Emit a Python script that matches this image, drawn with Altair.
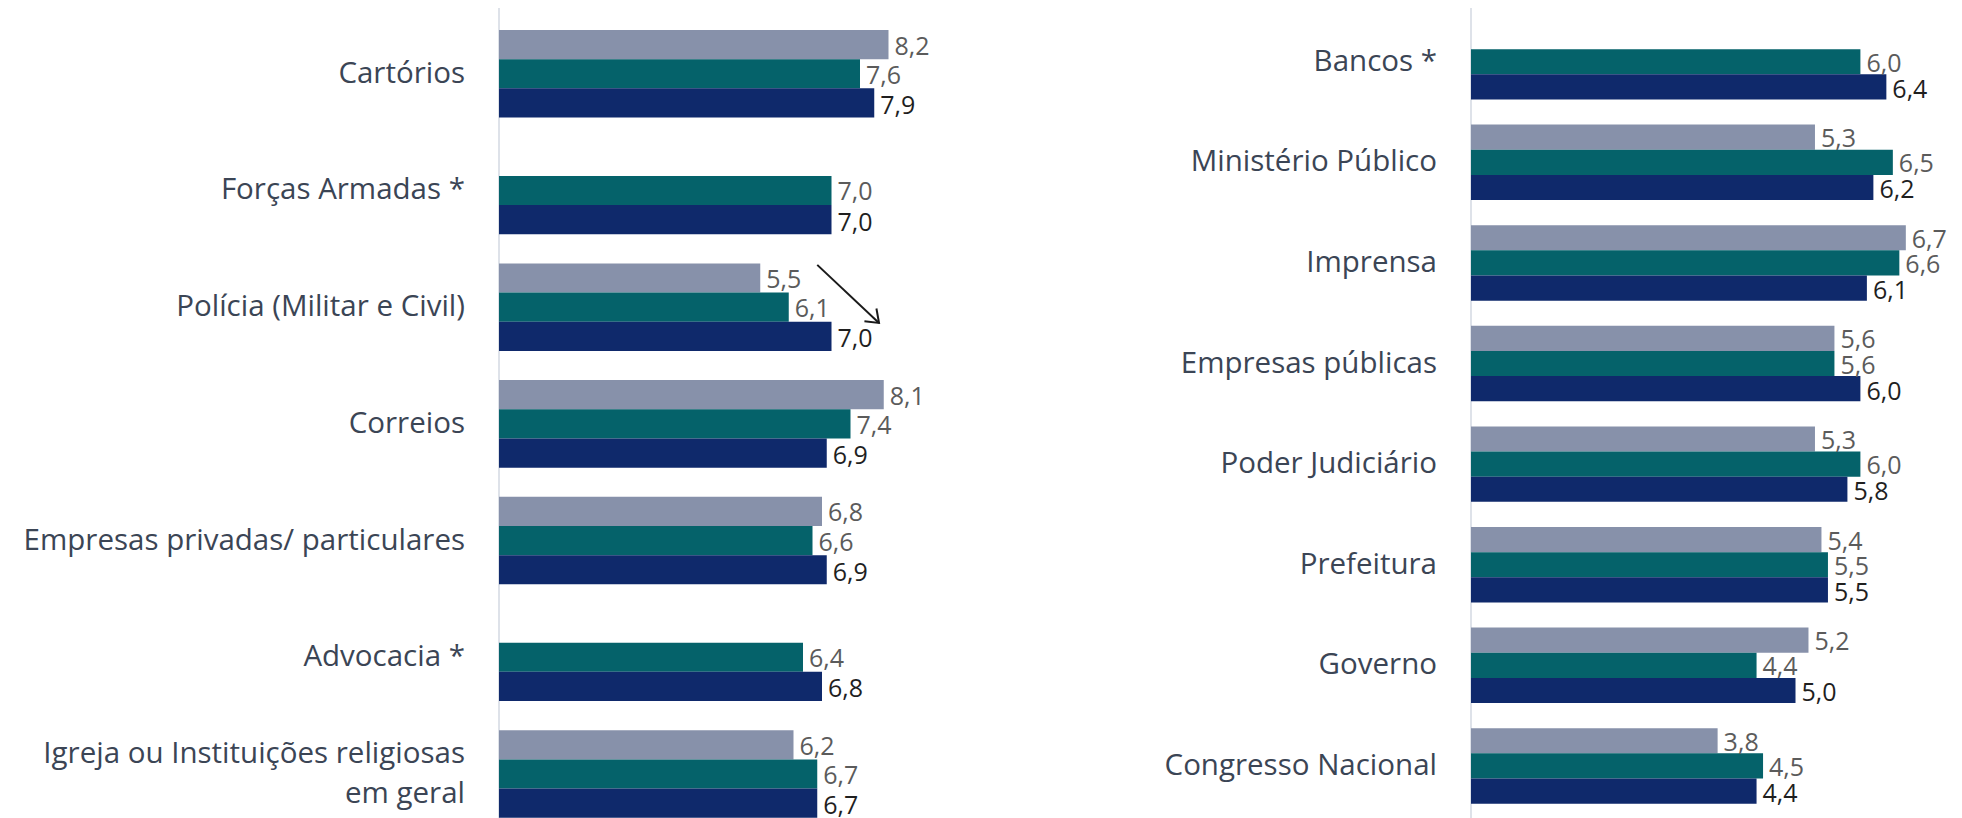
import altair as alt
import pandas as pd

# ---- data ----
series = ["Série 1", "Série 2", "Série 3"]
colors = ["#8791AA", "#05626A", "#0F296B"]

left_cats = [
    "Cartórios",
    "Forças Armadas *",
    "Polícia (Militar e Civil)",
    "Correios",
    "Empresas privadas/ particulares",
    "Advocacia *",
    "Igreja ou Instituições religiosas|em geral",
]
left_s1 = [8.2, None, 5.5, 8.1, 6.8, None, 6.2]
left_s2 = [7.6, 7.0, 6.1, 7.4, 6.6, 6.4, 6.7]
left_s3 = [7.9, 7.0, 7.0, 6.9, 6.9, 6.8, 6.7]

right_cats = [
    "Bancos *",
    "Ministério Público",
    "Imprensa",
    "Empresas públicas",
    "Poder Judiciário",
    "Prefeitura",
    "Governo",
    "Congresso Nacional",
]
right_s1 = [None, 5.3, 6.7, 5.6, 5.3, 5.4, 5.2, 3.8]
right_s2 = [6.0, 6.5, 6.6, 5.6, 6.0, 5.5, 4.4, 4.5]
right_s3 = [6.4, 6.2, 6.1, 6.0, 5.8, 5.5, 5.0, 4.4]

# trend arrow annotation next to "Polícia (Militar e Civil)"
arrow_cat = "Polícia (Militar e Civil)"
arrow_from = 6.7
arrow_to = 8.0


def make_df(cats, s1, s2, s3):
    rows = []
    for i, (c, a, b, d) in enumerate(zip(cats, s1, s2, s3)):
        for j, (s, v) in enumerate(zip(series, (a, b, d))):
            if v is not None:
                rows.append({"cat": c, "ordem": i, "serie": s, "sidx": j, "valor": v})
    return pd.DataFrame(rows)


LABEL_FONT = "Open Sans"
W, H = 1946, 810          # whole drawing area (page offset 8,8)
SLOTS = 4                 # 3 bars + 1 gap per category
LINE_H = 40               # line height of wrapped category labels


def panel(df, cats, zero_px, px_per_unit, first_bar_px, bar_px, arrow=None):
    xscale = alt.Scale(domain=[-zero_px / px_per_unit, (W - zero_px) / px_per_unit],
                       nice=False, zero=False)
    ymin = -first_bar_px / bar_px
    yscale = alt.Scale(domain=[ymin, ymin + H / bar_px], reverse=True, nice=False, zero=False)

    base = alt.Chart(df).transform_calculate(
        y0=f"{SLOTS} * datum.ordem + datum.sidx",
        y1=f"{SLOTS} * datum.ordem + datum.sidx + 1",
        yc=f"{SLOTS} * datum.ordem + datum.sidx + 0.5",
        rotulo="replace(format(datum.valor, '.1f'), '.', ',')",
    )
    bars = base.mark_bar().encode(
        x=alt.X("valor:Q", scale=xscale, axis=None),
        x2=alt.datum(0),
        y=alt.Y("y0:Q", scale=yscale, axis=None),
        y2="y1:Q",
        color=alt.Color("serie:N", scale=alt.Scale(domain=series, range=colors), legend=None),
    )
    lab_enc = dict(
        x=alt.X("valor:Q", scale=xscale, axis=None),
        y=alt.Y("yc:Q", scale=yscale, axis=None),
        text="rotulo:N",
    )
    labels_light = base.transform_filter("datum.sidx < 2").mark_text(
        align="left", baseline="middle", dx=6, dy=2, font=LABEL_FONT, fontSize=25,
        color="#5B5B5B",
    ).encode(**lab_enc)
    labels_dark = base.transform_filter("datum.sidx == 2").mark_text(
        align="left", baseline="middle", dx=6, dy=3, font=LABEL_FONT, fontSize=25,
        color="#1F1F1F",
    ).encode(**lab_enc)

    cat_df = pd.DataFrame({"cat": cats, "ordem": list(range(len(cats)))})
    cat_labels = alt.Chart(cat_df).transform_calculate(
        yc=(f"{SLOTS} * datum.ordem + 1.5 - "
            f"(length(split(datum.cat, '|')) - 1) * {LINE_H / 2} / {bar_px}"),
        zero="0",
    ).mark_text(
        align="right", baseline="middle", dx=-34, font=LABEL_FONT, fontSize=29.5,
        color="#3B4555", lineBreak="|", lineHeight=LINE_H,
    ).encode(
        x=alt.X("zero:Q", scale=xscale, axis=None),
        y=alt.Y("yc:Q", scale=yscale, axis=None),
        text="cat:N",
    )

    axis_line = alt.Chart(pd.DataFrame({"x": [0]})).mark_rule(
        color="#DEE2E9", strokeWidth=2
    ).encode(x=alt.X("x:Q", scale=xscale, axis=None))

    layers = [axis_line, bars, labels_light, labels_dark, cat_labels]

    if arrow is not None:
        acat, afrom, ato = arrow
        adf = pd.DataFrame({"ordem": [cats.index(acat)], "x0": [afrom], "x1": [ato]})
        abase = alt.Chart(adf).transform_calculate(
            ya=f"{SLOTS} * datum.ordem + 0.05",
            yb=f"{SLOTS} * datum.ordem + 2.04",
        )
        line = abase.mark_rule(color="#1A1A1A", strokeWidth=2).encode(
            x=alt.X("x0:Q", scale=xscale, axis=None),
            x2="x1:Q",
            y=alt.Y("ya:Q", scale=yscale, axis=None),
            y2="yb:Q",
        )
        head = abase.mark_point(
            shape="M -1 -0.75 L 0 0 L -1 0.75", filled=False, color="#1A1A1A",
            strokeWidth=2, size=550, angle=43, opacity=1,
        ).encode(
            x=alt.X("x1:Q", scale=xscale, axis=None),
            y=alt.Y("yb:Q", scale=yscale, axis=None),
        )
        layers += [line, head]

    return alt.layer(*layers)


left_df = make_df(left_cats, left_s1, left_s2, left_s3)
right_df = make_df(right_cats, right_s1, right_s2, right_s3)

# pixel geometry of each panel inside the drawing area
left = panel(left_df, left_cats, 491, 47.5, 22, 29.175,
             arrow=(arrow_cat, arrow_from, arrow_to))
right = panel(right_df, right_cats, 1463, 64.9, 16, 25.15)

chart = (
    alt.layer(left, right)
    .resolve_scale(x="independent", y="independent")
    .properties(width=W, height=H, autosize=alt.AutoSizeParams(type="none"), padding=0)
    .configure_view(strokeWidth=0)
)

chart.save("out.html", embed_options={"renderer": "svg", "actions": False})
